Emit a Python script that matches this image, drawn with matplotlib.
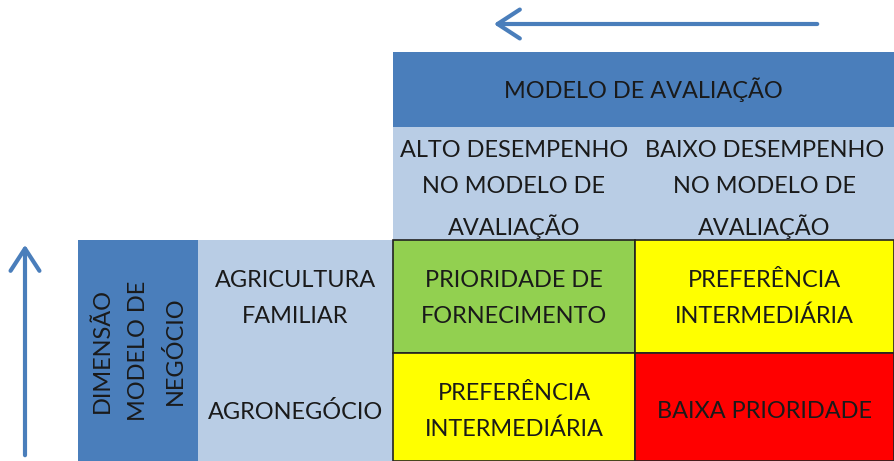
import matplotlib
matplotlib.use("Agg")
import matplotlib.pyplot as plt
from matplotlib.patches import Rectangle, FancyArrowPatch

plt.rcParams['font.family'] = ['Lato', 'DejaVu Sans']

# texts of the matrix
top_title = "MODELO DE AVALIAÇÃO"
col_labels = ["ALTO DESEMPENHO\nNO MODELO DE\nAVALIAÇÃO",
              "BAIXO DESEMPENHO\nNO MODELO DE\nAVALIAÇÃO"]
side_title = "DIMENSÃO\nMODELO DE\nNEGÓCIO"
row_labels = ["AGRICULTURA\nFAMILIAR", "AGRONEGÓCIO"]
cell_text = [["PRIORIDADE DE\nFORNECIMENTO", "PREFERÊNCIA\nINTERMEDIÁRIA"],
             ["PREFERÊNCIA\nINTERMEDIÁRIA", "BAIXA PRIORIDADE"]]
cell_colors = [["#92D050", "#FFFF00"],
               ["#FFFF00", "#FF0000"]]

dark_blue = "#4A7EBB"
light_blue = "#B9CDE5"
txt_col = "#1a1a1a"

W, H = 894, 461
fig = plt.figure(figsize=(W / 100, H / 100), dpi=100)
ax = fig.add_axes([0, 0, 1, 1])
ax.set_xlim(0, W)
ax.set_ylim(H, 0)
ax.axis('off')

# layout in pixels
col_edges = [393, 635, 894]
row_edges = [240, 353, 461]
row_shift = [2, 4.5]
head_top, head_mid = 52, 127
side_x0, side_x1 = 78, 198

fs = 16.9
ls = 1.86

# header
ax.add_patch(Rectangle((col_edges[0], head_top), col_edges[-1] - col_edges[0],
                       head_mid - head_top, fc=dark_blue, ec='none'))
ax.text((col_edges[0] + col_edges[-1]) / 2, (head_top + head_mid) / 2, top_title,
        ha='center', va='center', fontsize=fs, color=txt_col)
ax.add_patch(Rectangle((col_edges[0], head_mid), col_edges[-1] - col_edges[0],
                       row_edges[0] - head_mid, fc=light_blue, ec='none'))
for j, lab in enumerate(col_labels):
    ax.text((col_edges[j] + col_edges[j + 1]) / 2, (head_mid + row_edges[0]) / 2 + 6, lab,
            ha='center', va='center', fontsize=fs, color=txt_col, linespacing=ls)

# side
ax.add_patch(Rectangle((side_x0, row_edges[0]), side_x1 - side_x0,
                       row_edges[-1] - row_edges[0], fc=dark_blue, ec='none'))
ax.text((side_x0 + side_x1) / 2 + 1, (row_edges[0] + row_edges[-1]) / 2, side_title,
        ha='center', va='center', rotation=90, fontsize=fs, color=txt_col,
        linespacing=ls, multialignment='center')
ax.add_patch(Rectangle((side_x1, row_edges[0]), col_edges[0] - side_x1,
                       row_edges[-1] - row_edges[0], fc=light_blue, ec='none'))
for i, lab in enumerate(row_labels):
    ax.text((side_x1 + col_edges[0]) / 2, (row_edges[i] + row_edges[i + 1]) / 2 + row_shift[i],
            lab, ha='center', va='center', fontsize=fs, color=txt_col, linespacing=ls)

# cells
for i in range(2):
    for j in range(2):
        x0, x1 = col_edges[j], col_edges[j + 1]
        y0, y1 = row_edges[i], row_edges[i + 1]
        ax.add_patch(Rectangle((x0, y0), x1 - x0, y1 - y0, fc=cell_colors[i][j],
                               ec='#222222', lw=1.2))
        ax.text((x0 + x1) / 2, (y0 + y1) / 2 + row_shift[i], cell_text[i][j],
                ha='center', va='center', fontsize=fs, color=txt_col, linespacing=ls)

# arrows
arrow_kw = dict(arrowstyle='->,head_length=10,head_width=6.5', color=dark_blue, lw=3,
                mutation_scale=1.6)
ax.add_patch(FancyArrowPatch((820, 24), (491, 24), **arrow_kw))
ax.add_patch(FancyArrowPatch((25, 458), (25, 242), **arrow_kw))

fig.savefig("out.png", dpi=100)
